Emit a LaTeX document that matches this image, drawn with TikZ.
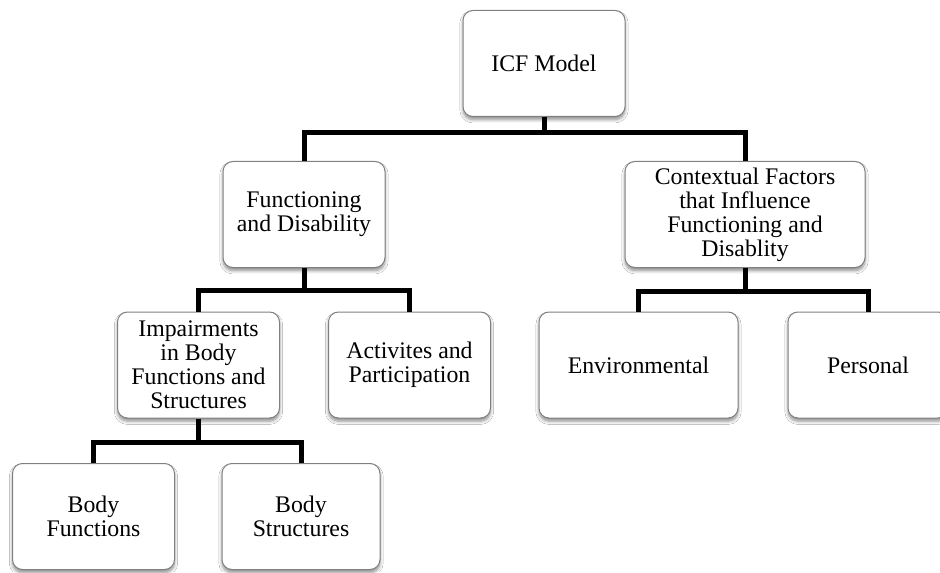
\documentclass[tikz,border=0pt]{standalone}
\usepackage{fontspec}
\setmainfont{Liberation Serif}
\usetikzlibrary{shadows.blur}

\tikzset{
    box/.style={draw=black!50, line width=0.5pt, fill=white, rounded corners=5pt,
        minimum width=81pt, minimum height=53pt, inner sep=2pt, align=center,
        font=\fontsize{11.9}{12}\selectfont,
        blur shadow={shadow xshift=0pt, shadow yshift=-1.6pt, shadow blur radius=1.6pt,
            shadow blur steps=6, shadow opacity=45}},
    link/.style={line width=2.5pt, black}
}

\begin{document}
\begin{tikzpicture}[x=0.5pt, y=-0.5pt]
    \clip (0,0) rectangle (940,572);
    \fill[white] (0,0) rectangle (940,572);

    % Top
    \node[box] (icf) at (544,63.5) {ICF Model};

    % Second level
    \node[box] (func) at (304,214.5) {Functioning\\and Disability};
    \node[box, minimum width=120pt] (ctx) at (745,214.5) {Contextual Factors\\that Influence\\Functioning and\\Disablity};

    % Third level
    \node[box] (imp) at (198.5,365) {Impairments\\in Body\\Functions and\\Structures};
    \node[box] (act) at (409.5,365) {Activites and\\Participation};
    \node[box, minimum width=99.5pt] (env) at (638.5,365) {Environmental};
    \node[box, minimum width=80pt] (pers) at (868,365) {Personal};

    % Fourth level
    \node[box] (bodyf) at (93.5,516.5) {Body\\Functions};
    \node[box, minimum width=79pt] (bodys) at (301,516.5) {Body\\Structures};

    % Connectors
    \draw[link] (icf.south) -- ++(0,-8pt) -| (func.north);
    \draw[link] (icf.south) -- ++(0,-8pt) -| (ctx.north);

    \draw[link] (func.south) -- ++(0,-11pt) -| (imp.north);
    \draw[link] (func.south) -- ++(0,-11pt) -| (act.north);

    \draw[link] (ctx.south) -- ++(0,-11.5pt) -| (env.north);
    \draw[link] (ctx.south) -- ++(0,-11.5pt) -| (pers.north);

    \draw[link] (imp.south) -- ++(0,-12pt) -| (bodyf.north);
    \draw[link] (imp.south) -- ++(0,-12pt) -| (bodys.north);
\end{tikzpicture}
\end{document}
